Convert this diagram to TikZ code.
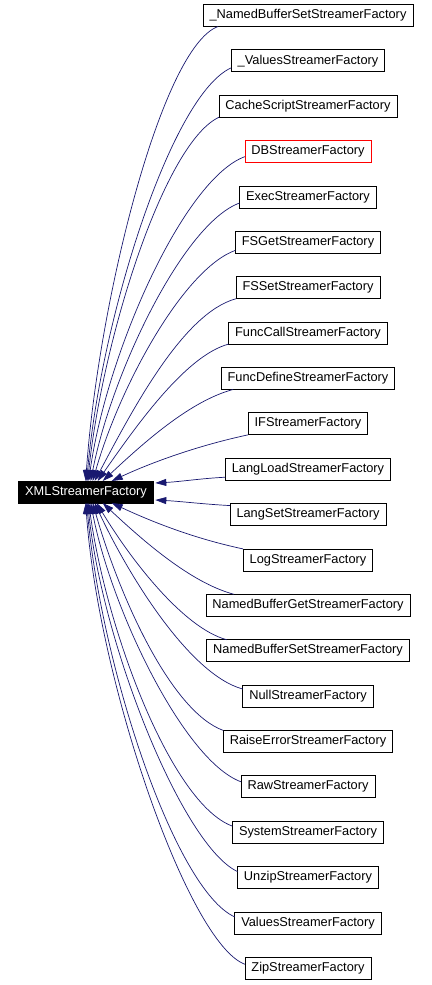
\documentclass[tikz,border=0pt]{standalone}
\usepackage{fontspec}
\setmainfont{Liberation Sans}
\usetikzlibrary{arrows.meta, positioning}
\definecolor{edgeblue}{RGB}{25, 25, 112}

\begin{document}
\begin{tikzpicture}[
    x=1pt, y=1pt,
    node distance=23.37pt,
    cls/.style={draw, fill=white, line width=0.8pt, outer sep=0pt, minimum height=22pt, inner xsep=6.5pt, inner ysep=2pt, font=\fontsize{12.8}{14}\selectfont},
    base/.style={cls, fill=black, text=white},
    inherit/.style={-{Triangle[length=11pt, width=7pt]}, edgeblue, line width=0.7pt}
]
    \useasboundingbox (0,0) rectangle (431,-985);

    % Derived classes - one column
    \node[cls] (nbsu) at (308,-15.5) {\_NamedBufferSetStreamerFactory};
    \node[cls, below=of nbsu] (valu) {\_ValuesStreamerFactory};
    \node[cls, below=of valu] (cache) {CacheScriptStreamerFactory};
    \node[cls, draw=red, below=of cache] (db) {DBStreamerFactory};
    \node[cls, below=of db] (exec) {ExecStreamerFactory};
    \node[cls, below=of exec] (fsget) {FSGetStreamerFactory};
    \node[cls, below=of fsget] (fsset) {FSSetStreamerFactory};
    \node[cls, below=of fsset] (fcall) {FuncCallStreamerFactory};
    \node[cls, below=of fcall] (fdef) {FuncDefineStreamerFactory};
    \node[cls, below=of fdef] (iff) {IFStreamerFactory};
    \node[cls, below=of iff] (lload) {LangLoadStreamerFactory};
    \node[cls, below=of lload] (lset) {LangSetStreamerFactory};
    \node[cls, below=of lset] (log) {LogStreamerFactory};
    \node[cls, below=of log] (nbget) {NamedBufferGetStreamerFactory};
    \node[cls, below=of nbget] (nbset) {NamedBufferSetStreamerFactory};
    \node[cls, below=of nbset] (null) {NullStreamerFactory};
    \node[cls, below=of null] (raise) {RaiseErrorStreamerFactory};
    \node[cls, below=of raise] (raw) {RawStreamerFactory};
    \node[cls, below=of raw] (sys) {SystemStreamerFactory};
    \node[cls, below=of sys] (unzip) {UnzipStreamerFactory};
    \node[cls, below=of unzip] (values) {ValuesStreamerFactory};
    \node[cls, below=of values] (zip) {ZipStreamerFactory};

    % Base class
    \node[base] (xml) at (86,-492) {XMLStreamerFactory};

    % Inheritance - upper half
    \draw[inherit] ([xshift=15pt]nbsu.south west) .. controls +(200:60) and +(86:180) .. ([xshift=67pt]xml.north west);
    \draw[inherit] ([yshift=4pt]valu.south west) .. controls +(204:65) and +(85:165) .. ([xshift=68pt]xml.north west);
    \draw[inherit] (cache.south west) .. controls +(205:60) and +(84:145) .. ([xshift=69pt]xml.north west);
    \draw[inherit] ([yshift=6pt]db.south west) .. controls +(200:65) and +(82:130) .. ([xshift=70pt]xml.north west);
    \draw[inherit] ([yshift=5pt]exec.south west) .. controls +(200:60) and +(79:110) .. ([xshift=72pt]xml.north west);
    \draw[inherit] ([yshift=3pt]fsget.south west) .. controls +(200:55) and +(74:100) .. ([xshift=74pt]xml.north west);
    \draw[inherit] (fsset.south west) .. controls +(195:55) and +(62:80) .. ([xshift=76pt]xml.north west);
    \draw[inherit] (fcall.south west) .. controls +(195:45) and +(55:65) .. ([xshift=79pt]xml.north west);
    \draw[inherit] ([xshift=12pt]fdef.south west) .. controls +(195:45) and +(43:55) .. ([xshift=84pt]xml.north west);
    \draw[inherit] (iff.south west) .. controls +(192:50) and +(25:45) .. ([xshift=93pt]xml.north west);
    \draw[inherit] ([yshift=3pt]lload.south west) .. controls +(183:25) and +(3:25) .. ([xshift=2pt, yshift=-2pt]xml.north east);

    % Inheritance - lower half
    \draw[inherit] ([yshift=-2pt]lset.north west) .. controls +(177:25) and +(-3:25) .. ([xshift=2pt, yshift=3pt]xml.south east);
    \draw[inherit] (log.north west) .. controls +(168:50) and +(-25:45) .. ([xshift=93pt]xml.south west);
    \draw[inherit] ([xshift=28pt]nbget.north west) .. controls +(165:45) and +(-43:55) .. ([xshift=84pt]xml.south west);
    \draw[inherit] ([xshift=20pt]nbset.north west) .. controls +(165:45) and +(-59:65) .. ([xshift=78pt]xml.south west);
    \draw[inherit] ([yshift=-4pt]null.north west) .. controls +(165:55) and +(-65:80) .. ([xshift=76pt]xml.south west);
    \draw[inherit] (raise.north west) .. controls +(160:55) and +(-74:100) .. ([xshift=74pt]xml.south west);
    \draw[inherit] ([yshift=-6pt]raw.north west) .. controls +(160:60) and +(-79:110) .. ([xshift=72pt]xml.south west);
    \draw[inherit] ([yshift=-5pt]sys.north west) .. controls +(160:65) and +(-82:130) .. ([xshift=70pt]xml.south west);
    \draw[inherit] ([yshift=-5pt]unzip.north west) .. controls +(155:60) and +(-84:145) .. ([xshift=69pt]xml.south west);
    \draw[inherit] ([yshift=-5pt]values.north west) .. controls +(156:65) and +(-85:165) .. ([xshift=68pt]xml.south west);
    \draw[inherit] ([yshift=-7pt]zip.north west) .. controls +(160:60) and +(-86:180) .. ([xshift=67pt]xml.south west);
\end{tikzpicture}
\end{document}
